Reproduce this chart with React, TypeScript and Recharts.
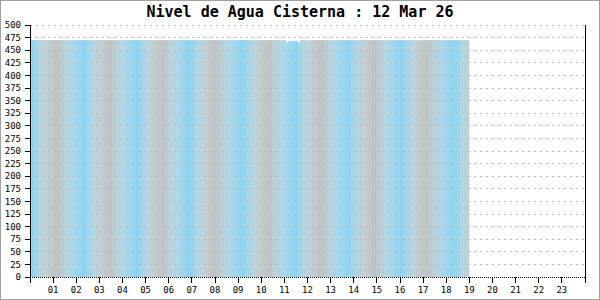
import React from 'react';
import { BarChart, Bar, XAxis, YAxis, ReferenceLine } from 'recharts';

const TITLE = 'Nivel de Agua Cisterna : 12 Mar 26';

// one reading every 5 minutes, one row per hour (00h .. 18h)
const levels: number[] = [
  470, 470, 470, 470, 470, 470, 470, 470, 470, 470, 470, 470,
  470, 470, 470, 470, 470, 470, 470, 470, 470, 470, 470, 470,
  470, 470, 470, 470, 470, 470, 470, 470, 470, 470, 470, 470,
  470, 470, 470, 470, 470, 470, 470, 470, 470, 470, 470, 470,
  470, 470, 470, 470, 470, 470, 470, 470, 470, 470, 470, 470,
  470, 470, 470, 470, 470, 470, 470, 470, 470, 470, 470, 470,
  470, 470, 470, 470, 470, 470, 470, 470, 470, 470, 470, 470,
  470, 470, 470, 470, 470, 470, 470, 470, 470, 470, 470, 470,
  470, 470, 470, 470, 470, 470, 470, 470, 470, 470, 470, 470,
  470, 470, 470, 470, 470, 470, 470, 470, 470, 470, 470, 470,
  470, 470, 470, 470, 470, 470, 470, 470, 470, 470, 470, 470,
  470, 465, 468, 468, 468, 468, 468, 465, 470, 470, 470, 470,
  469, 470, 470, 470, 470, 470, 470, 470, 470, 470, 470, 470,
  470, 470, 470, 470, 470, 470, 470, 470, 470, 470, 470, 470,
  470, 470, 470, 470, 470, 470, 470, 470, 470, 470, 470, 470,
  470, 470, 470, 470, 470, 470, 470, 470, 470, 470, 470, 470,
  470, 470, 470, 470, 470, 470, 470, 470, 470, 470, 470, 470,
  470, 470, 470, 470, 470, 470, 470, 470, 470, 470, 470, 470,
  470, 470, 470, 470, 470, 470, 470, 470, 470, 470, 470, 470,
];

const SLOT_MINUTES = 5;
const yTicks = [0, 25, 50, 75, 100, 125, 150, 175, 200, 225, 250, 275, 300, 325, 350, 375, 400, 425, 450, 475, 500];
const xTicks = [0, 1, 2, 3, 4, 5, 6, 7, 8, 9, 10, 11, 12, 13, 14, 15, 16, 17, 18, 19, 20, 21, 22, 23, 24];
const xLabels = ['', '01', '02', '03', '04', '05', '06', '07', '08', '09', '10', '11', '12', '13', '14', '15', '16', '17', '18', '19', '20', '21', '22', '23', ''];

const data = levels.map((v, i) => ({ t: (i * SLOT_MINUTES + SLOT_MINUTES / 2) / 60, level: v }));

const CHART_W = 600;
const MARGIN = { top: 25, right: 15, bottom: 0, left: 0 };
const Y_AXIS_W = 30;
const PLOT_W = CHART_W - MARGIN.left - MARGIN.right - Y_AXIS_W;
const SLOT_PX = PLOT_W / ((24 * 60) / SLOT_MINUTES);

const CYAN = '#87CEEB';
const GRAY = '#B4B4B4';
const CYAN_SHARE = 0.6;
const FONT = '"DejaVu Sans Mono", monospace';

const BarShape = (props: any) => {
  const { x, y, width, height } = props;
  if (height == null || height <= 0) return null;
  return (
    <g>
      <rect x={x} y={y} width={width * CYAN_SHARE} height={height} fill={CYAN} />
      <rect x={x + width * CYAN_SHARE} y={y} width={width * (1 - CYAN_SHARE)} height={height} fill={GRAY} />
    </g>
  );
};

export default function App() {
  return (
    <div style={{ position: 'absolute', left: 0, top: 0, width: 600, height: 300, background: '#fff' }}>
      <BarChart
        width={CHART_W}
        height={300}
        data={data}
        margin={MARGIN}
        barCategoryGap={0}
        barGap={0}
        barSize={SLOT_PX}
      >
        <XAxis
          dataKey="t"
          type="number"
          domain={[0, 24]}
          ticks={xTicks}
          interval={0}
          allowDataOverflow
          height={23}
          tickSize={6}
          tickMargin={4}
          tickFormatter={(v: number) => xLabels[v] ?? ''}
          axisLine={{ stroke: '#000', strokeDasharray: '1 1', shapeRendering: 'crispEdges' }}
          tickLine={{ stroke: '#000', shapeRendering: 'crispEdges' }}
          tick={{ fontFamily: FONT, fontSize: 9, fill: '#000' }}
        />
        <YAxis
          domain={[0, 500]}
          ticks={yTicks}
          interval={0}
          width={Y_AXIS_W}
          tickSize={5}
          tickMargin={4}
          axisLine={{ stroke: '#000', shapeRendering: 'crispEdges' }}
          tickLine={{ stroke: '#000', shapeRendering: 'crispEdges' }}
          tick={{ fontFamily: FONT, fontSize: 9, fill: '#000' }}
        />
        <Bar dataKey="level" isAnimationActive={false} shape={BarShape} barSize={SLOT_PX} />
        {yTicks.filter((t) => t > 0).map((t) => (
          <ReferenceLine key={t} y={t} stroke="#BBBBBB" strokeDasharray="2 4" shapeRendering="crispEdges" />
        ))}
        <ReferenceLine x={24} stroke="#000" shapeRendering="crispEdges" />
      </BarChart>
      <div
        style={{
          position: 'absolute',
          left: 0,
          top: 5,
          width: 600,
          textAlign: 'center',
          fontFamily: FONT,
          fontWeight: 'bold',
          fontSize: 15,
          lineHeight: '15px',
          color: '#000',
        }}
      >
        {TITLE}
      </div>
      <div
        style={{
          position: 'absolute',
          left: 0,
          top: 0,
          width: 600,
          height: 300,
          boxSizing: 'border-box',
          border: '1px solid #A0A0A0',
          pointerEvents: 'none',
        }}
      />
    </div>
  );
}
